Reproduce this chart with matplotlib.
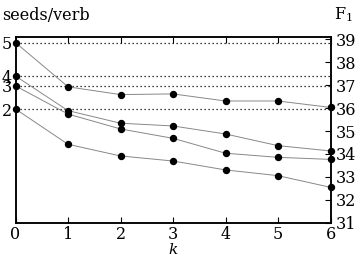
import matplotlib
matplotlib.use("Agg")
import matplotlib.pyplot as plt

k = [0, 1, 2, 3, 4, 5, 6]
f1_seed5 = [38.86, 36.93, 36.59, 36.62, 36.31, 36.31, 36.03]
f1_seed4 = [37.40, 35.89, 35.34, 35.22, 34.87, 34.36, 34.13]
f1_seed3 = [36.97, 35.74, 35.09, 34.68, 34.03, 33.85, 33.76]
f1_seed2 = [35.96, 34.42, 33.91, 33.69, 33.30, 33.05, 32.54]
series = [f1_seed5, f1_seed4, f1_seed3, f1_seed2]
seed_labels = ["5", "4", "3", "2"]
right_ticks = [31, 32, 33, 34, 35, 36, 37, 38, 39]

plt.rcParams['font.family'] = ['DejaVu Serif']
plt.rcParams['mathtext.fontset'] = 'dejavuserif'
FS = 11.5

fig = plt.figure(figsize=(3.58, 2.58), dpi=100)
ax = fig.add_axes([15.5/358, 1-222.6/258, (330.5-15.5)/358, (222.6-37.3)/258])

for s in series:
    ax.axhline(s[0], color='black', linestyle=(0, (1, 2.2)), linewidth=0.9, zorder=1)
for s in series:
    ax.plot(k, s, color='#888888', linewidth=0.7, marker='o', markersize=4.3,
            markerfacecolor='black', markeredgecolor='black', clip_on=False, zorder=3)

ax.set_xlim(0, 6)
ax.set_ylim(31, 39.092)
ax.set_xticks(k)
ax.set_xticklabels([str(v) for v in k], fontsize=FS)
ax.tick_params(axis='x', direction='in', top=True, length=4, width=0.8, pad=2.5)
ax.set_yticks([s[0] for s in series])
ax.set_yticklabels(seed_labels, fontsize=FS)
ax.tick_params(axis='y', direction='in', length=0, pad=2.5)

ax2 = ax.twinx()
ax2.set_ylim(31, 39.092)
ax2.set_yticks(right_ticks)
ax2.set_yticklabels([str(v) for v in right_ticks], fontsize=FS)
ax2.tick_params(axis='y', direction='in', length=4, width=0.8, pad=3.5)

for a in (ax, ax2):
    for sp in a.spines.values():
        sp.set_linewidth(1.1)

fig.text(2/358, 1-15/258, "seeds/verb", fontsize=FS, va='center', ha='left')
fig.text(334/358, 1-15/258, r"F$_1$", fontsize=FS, va='center', ha='left')
fig.text(173/358, 1-257.5/258, "k", fontsize=11, style='italic', va='bottom', ha='center')

fig.savefig("out.png", dpi=100)
